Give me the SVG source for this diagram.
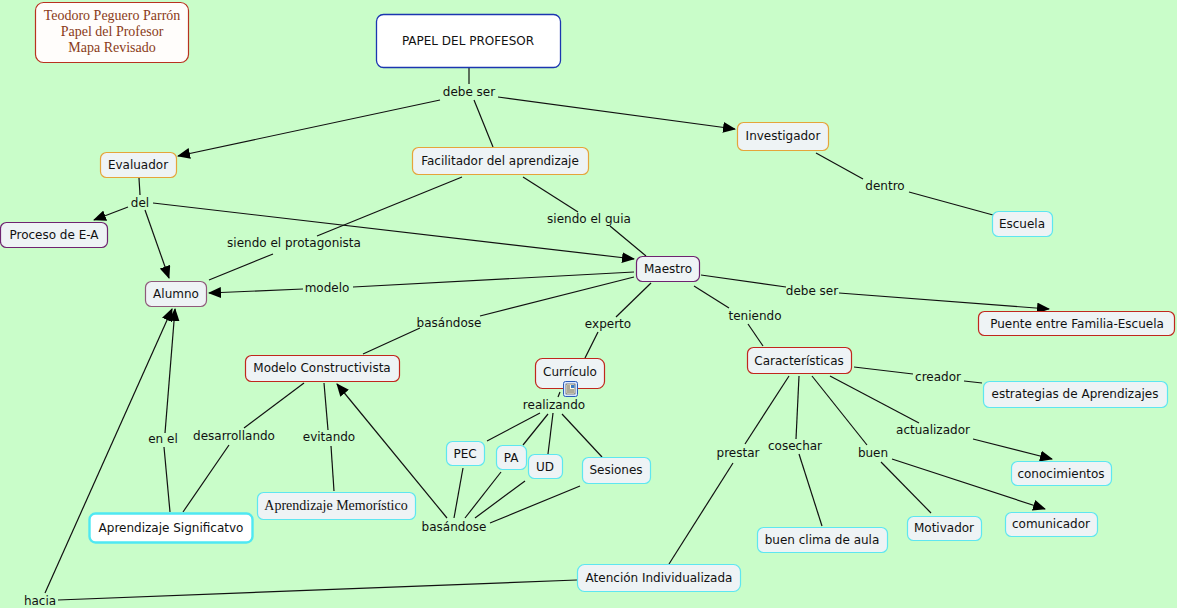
<svg xmlns="http://www.w3.org/2000/svg" width="1177" height="608" viewBox="0 0 1177 608">
<defs>
<marker id="arr" markerUnits="userSpaceOnUse" markerWidth="13" markerHeight="11" refX="12" refY="5.5" orient="auto">
<path d="M0,0 L13,5.5 L0,11 z" fill="#000"/>
</marker>
<style>
.bg{fill:#c9fdc9}
.n{fill:#eef3f5;stroke-width:1.2}
.o{stroke:#e5a43a}
.p{stroke:#6e2470}
.r{stroke:#c0271d}
.c{stroke:#5ee6f0}
.t{font-family:"DejaVu Sans",Verdana,sans-serif;font-size:12px;fill:#111;text-anchor:middle}
.l{font-family:"DejaVu Sans",Verdana,sans-serif;font-size:12px;fill:#111;text-anchor:middle}
.s{font-family:"Liberation Serif",serif;font-size:14px;fill:#8a3b18;text-anchor:middle}
.e{stroke:#111;stroke-width:1.2;fill:none}
.a{marker-end:url(#arr)}
</style>
</defs>
<rect class="bg" x="0" y="0" width="1177" height="608"/>

<g id="connectors">
<line class="e" x1="469" y1="68" x2="469" y2="84"/>
<line class="e a" x1="440" y1="100" x2="178" y2="156"/>
<line class="e" x1="474" y1="100" x2="493" y2="147"/>
<line class="e a" x1="498" y1="97" x2="735" y2="129"/>
<line class="e" x1="139" y1="178" x2="140" y2="195"/>
<line class="e a" x1="128" y1="207" x2="94" y2="220"/>
<line class="e a" x1="145" y1="210" x2="169" y2="278"/>
<line class="e a" x1="153" y1="203" x2="634" y2="259"/>
<line class="e" x1="462" y1="177" x2="317" y2="236"/>
<line class="e" x1="273" y1="254" x2="209" y2="280"/>
<line class="e" x1="523" y1="177" x2="578" y2="212"/>
<line class="e" x1="610" y1="226" x2="646" y2="256"/>
<line class="e" x1="634" y1="272" x2="353" y2="287"/>
<line class="e a" x1="303" y1="289" x2="209" y2="293"/>
<line class="e" x1="634" y1="277" x2="480" y2="316"/>
<line class="e" x1="420" y1="328" x2="363" y2="354"/>
<line class="e" x1="651" y1="283" x2="616" y2="317"/>
<line class="e" x1="598" y1="332" x2="585" y2="358"/>
<line class="e" x1="694" y1="286" x2="729" y2="308"/>
<line class="e" x1="748" y1="324" x2="763" y2="346"/>
<line class="e" x1="701" y1="275" x2="786" y2="287"/>
<line class="e a" x1="839" y1="293" x2="1049" y2="309"/>
<line class="e" x1="816" y1="153" x2="863" y2="179"/>
<line class="e" x1="909" y1="192" x2="993" y2="215"/>
<line class="e" x1="560" y1="392" x2="558" y2="397"/>
<line class="e" x1="540" y1="413" x2="487" y2="441"/>
<line class="e" x1="548" y1="414" x2="523" y2="445"/>
<line class="e" x1="553" y1="413" x2="548" y2="454"/>
<line class="e" x1="562" y1="414" x2="602" y2="457"/>
<line class="e" x1="463" y1="468" x2="454" y2="518"/>
<line class="e" x1="501" y1="472" x2="465" y2="518"/>
<line class="e" x1="525" y1="481" x2="475" y2="518"/>
<line class="e" x1="580" y1="486" x2="490" y2="523"/>
<line class="e a" x1="447" y1="518" x2="337" y2="384"/>
<line class="e" x1="854" y1="367" x2="913" y2="374"/>
<line class="e" x1="964" y1="381" x2="982" y2="383"/>
<line class="e" x1="830" y1="376" x2="919" y2="423"/>
<line class="e a" x1="973" y1="439" x2="1052" y2="459"/>
<line class="e" x1="812" y1="376" x2="867" y2="445"/>
<line class="e" x1="881" y1="462" x2="931" y2="513"/>
<line class="e a" x1="892" y1="459" x2="1045" y2="509"/>
<line class="e" x1="799" y1="376" x2="796" y2="439"/>
<line class="e" x1="799" y1="454" x2="822" y2="526"/>
<line class="e" x1="789" y1="376" x2="745" y2="444"/>
<line class="e" x1="733" y1="463" x2="669" y2="564"/>
<line class="e" x1="58" y1="600" x2="577" y2="580"/>
<line class="e a" x1="45" y1="593" x2="172" y2="309"/>
<line class="e" x1="170" y1="512" x2="164" y2="447"/>
<line class="e a" x1="165" y1="433" x2="175" y2="309"/>
<line class="e" x1="304" y1="383" x2="244" y2="428"/>
<line class="e" x1="229" y1="445" x2="183" y2="512"/>
<line class="e" x1="324" y1="383" x2="328" y2="430"/>
<line class="e" x1="331" y1="446" x2="334" y2="491"/>
</g>

<g id="labels">
<text class="l" x="469" y="96">debe ser</text>
<text class="l" x="140" y="207">del</text>
<text class="l" x="294" y="247">siendo el protagonista</text>
<text class="l" x="589" y="223">siendo el guia</text>
<text class="l" x="327" y="292">modelo</text>
<text class="l" x="449" y="327">basándose</text>
<text class="l" x="608" y="328">experto</text>
<text class="l" x="755" y="320">teniendo</text>
<text class="l" x="812" y="295">debe ser</text>
<text class="l" x="885" y="190">dentro</text>
<text class="l" x="554" y="409">realizando</text>
<text class="l" x="454" y="531">basándose</text>
<text class="l" x="938" y="381">creador</text>
<text class="l" x="933" y="434">actualizador</text>
<text class="l" x="873" y="457">buen</text>
<text class="l" x="795" y="450">cosechar</text>
<text class="l" x="738" y="457">prestar</text>
<text class="l" x="40" y="605">hacia</text>
<text class="l" x="163" y="443">en el</text>
<text class="l" x="234" y="440">desarrollando</text>
<text class="l" x="329" y="441">evitando</text>
</g>

<g id="title">
<rect x="35.5" y="2.5" width="153" height="60" rx="8" fill="#fffdfb" stroke="#b8321f" stroke-width="1.2"/>
<text class="s" x="112" y="20">Teodoro Peguero Parrón</text>
<text class="s" x="112" y="36">Papel del Profesor</text>
<text class="s" x="112" y="52">Mapa Revisado</text>
</g>
<g id="papel">
<rect x="376.5" y="14.5" width="184" height="53" rx="7" fill="#fff" stroke="#1b36b0" stroke-width="1.3"/>
<text class="t" x="468" y="45">PAPEL DEL PROFESOR</text>
</g>
<g id="evaluador"><rect class="n o" x="100.5" y="152.5" width="76" height="25" rx="6"/><text class="t" x="138" y="169">Evaluador</text></g>
<g id="facilitador"><rect class="n o" x="412.5" y="147.5" width="176" height="27" rx="6"/><text class="t" x="500" y="165">Facilitador del aprendizaje</text></g>
<g id="investigador"><rect class="n o" x="737.5" y="122.5" width="91" height="28" rx="6"/><text class="t" x="783" y="140">Investigador</text></g>
<g id="proceso"><rect class="n p" x="0.5" y="222.5" width="107" height="25" rx="6"/><text class="t" x="54" y="239">Proceso de E-A</text></g>
<g id="alumno"><rect class="n" stroke="#8e5a7a" stroke-width="1.2" x="145.5" y="281.5" width="61" height="25" rx="6"/><text class="t" x="176" y="298">Alumno</text></g>
<g id="maestro"><rect class="n p" x="636.5" y="256.5" width="63" height="25" rx="6"/><text class="t" x="668" y="273">Maestro</text></g>
<g id="escuela"><rect class="n c" x="992.5" y="211.5" width="60" height="25" rx="6"/><text class="t" x="1022" y="228">Escuela</text></g>
<g id="puente"><rect class="n r" x="978.5" y="311.5" width="196" height="24" rx="6"/><text class="t" x="1077" y="328">Puente entre Familia-Escuela</text></g>
<g id="modelo"><rect class="n r" x="245.5" y="355.5" width="154" height="26" rx="6"/><text class="t" x="322" y="372">Modelo Constructivista</text></g>
<g id="curriculo"><rect class="n r" x="535.5" y="358.5" width="69" height="30" rx="7"/><text class="t" x="570" y="376">Currículo</text>
<rect x="563.5" y="381.5" width="14" height="15" rx="2" fill="#d8e6ff" stroke="#2a5bb8" stroke-width="1"/>
<rect x="566" y="384" width="9" height="10" fill="#fffbe0" stroke="#333" stroke-width="0.6"/>
<rect x="571" y="385" width="3.5" height="3" fill="#3a7ac8"/>
<line x1="567" y1="386" x2="570" y2="386" stroke="#333" stroke-width="0.8"/>
<line x1="567" y1="388" x2="570" y2="388" stroke="#333" stroke-width="0.8"/>
<line x1="567" y1="390" x2="574" y2="390" stroke="#333" stroke-width="0.8"/>
<line x1="567" y1="392" x2="574" y2="392" stroke="#333" stroke-width="0.8"/>
</g>
<g id="pec"><rect class="n c" x="446.5" y="441.5" width="38" height="24" rx="6"/><text class="t" x="465" y="458">PEC</text></g>
<g id="pa"><rect class="n c" x="496.5" y="445.5" width="30" height="24" rx="6"/><text class="t" x="511" y="462">PA</text></g>
<g id="ud"><rect class="n c" x="528.5" y="454.5" width="34" height="24" rx="6"/><text class="t" x="545" y="471">UD</text></g>
<g id="sesiones"><rect class="n c" x="582.5" y="457.5" width="68" height="26" rx="6"/><text class="t" x="616" y="474">Sesiones</text></g>
<g id="caracteristicas"><rect class="n r" x="747.5" y="347.5" width="104" height="26" rx="6"/><text class="t" x="799" y="365">Características</text></g>
<g id="estrategias"><rect class="n c" x="983.5" y="381.5" width="184" height="26" rx="6"/><text class="t" x="1075" y="398">estrategias de Aprendizajes</text></g>
<g id="conocimientos"><rect class="n c" x="1011.5" y="461.5" width="100" height="24" rx="6"/><text class="t" x="1061" y="478">conocimientos</text></g>
<g id="motivador"><rect class="n c" x="907.5" y="516.5" width="74" height="24" rx="6"/><text class="t" x="944" y="532">Motivador</text></g>
<g id="comunicador"><rect class="n c" x="1005.5" y="512.5" width="92" height="24" rx="6"/><text class="t" x="1051" y="528">comunicador</text></g>
<g id="clima"><rect class="n c" x="757.5" y="527.5" width="130" height="25" rx="6"/><text class="t" x="822" y="544">buen clima de aula</text></g>
<g id="atencion"><rect class="n c" x="577.5" y="564.5" width="163" height="27" rx="7"/><text class="t" x="659" y="582">Atención Individualizada</text></g>
<g id="significativo"><rect x="89.5" y="513.5" width="163" height="29" rx="6" fill="#fff" stroke="#4fe8f2" stroke-width="2.4"/><text class="t" x="171" y="532">Aprendizaje Significatvo</text></g>
<g id="memoristico"><rect class="n c" x="257.5" y="492.5" width="158" height="27" rx="6"/><text x="336" y="510" font-family="Liberation Serif,serif" font-size="14" fill="#111" text-anchor="middle">Aprendizaje Memorístico</text></g>
</svg>
